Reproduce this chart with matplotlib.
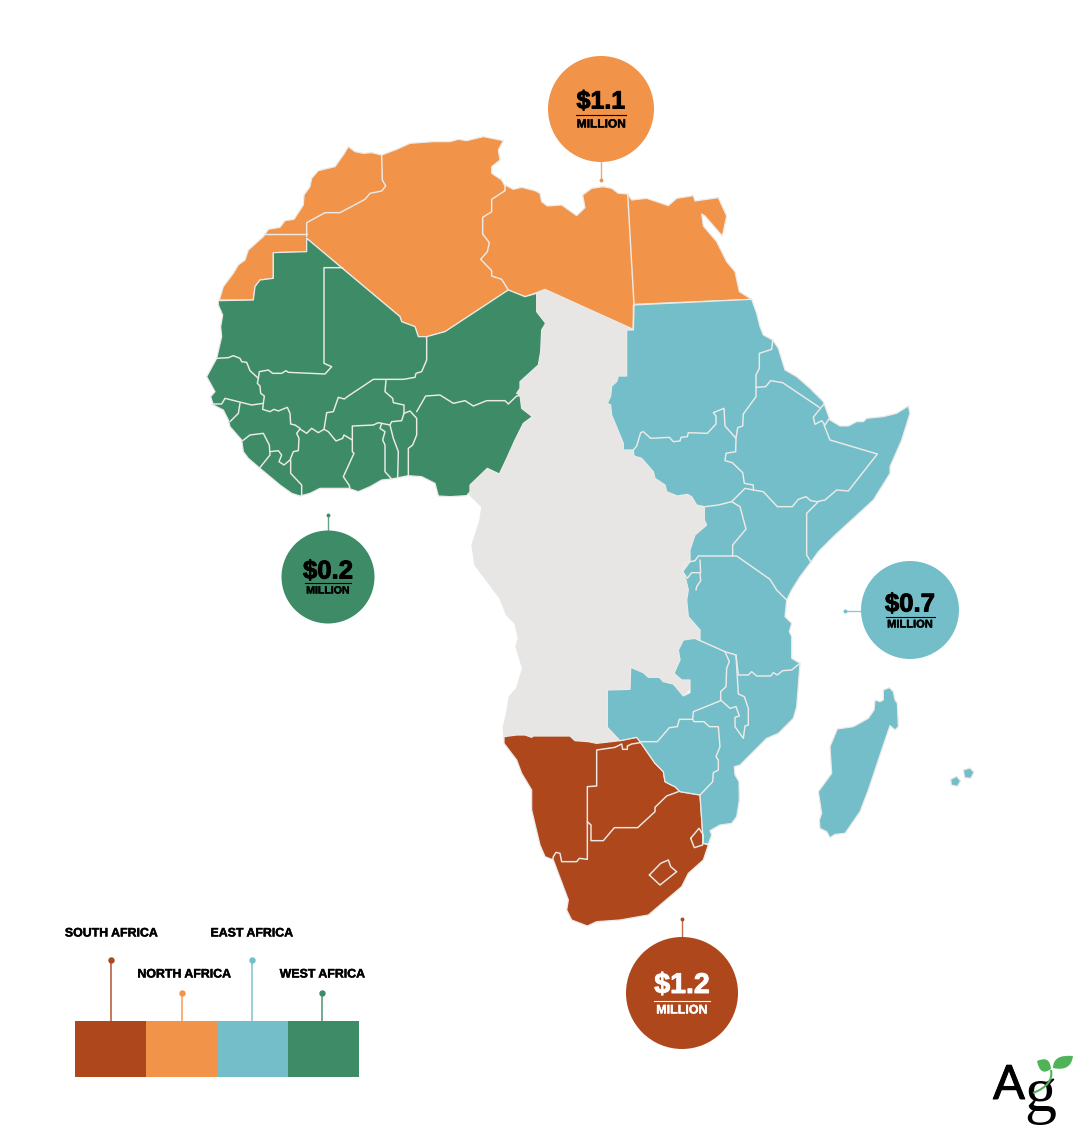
import matplotlib
matplotlib.use("Agg")
import matplotlib.pyplot as plt
import matplotlib.patheffects as pe
from matplotlib.patches import Circle, PathPatch, Polygon, Rectangle
from matplotlib.path import Path

# values
regions = ["SOUTH AFRICA", "NORTH AFRICA", "EAST AFRICA", "WEST AFRICA"]
amounts = ["$1.2", "$1.1", "$0.7", "$0.2"]
colors = ["#AE471C", "#F19349", "#73BEC8", "#3E8B67"]
text_colors = ["white", "black", "black", "black"]
bubble_xy = [(682, 993), (601, 109), (910, 610), (328, 577)]
bubble_r = [56, 53, 49, 46.5]
stem_ends = [((682, 937), (682, 919)), ((601, 162), (601, 180)),
             ((861, 611), (845, 611)), ((328, 531), (328, 515))]
amount_size = [20.5, 18, 18.5, 18.5]
million_size = [9.0, 8.6, 8.0, 7.6]
amount_dy = [-7, -7.5, -5.5, -5.5]
rule_dy = [8, 6, 7, 6]
million_dy = [17.5, 15.5, 14.5, 13.5]
rule_half = [28, 25, 24.5, 23]
legend_stem_x = [111, 182, 252, 322]
legend_stem_top = [960, 993, 960, 993]
legend_label_y = [933.5, 974.5, 933.5, 974.5]
legend_label_x = [111.5, 184.5, 252, 322.5]
GREY = "#E8E6E4"
LINE = "#ECEAE7"


def z3(pts):
    # outline (x0=200, y0=130, 3x)
    return [(200 + x / 3, 130 + y / 3) for x, y in pts]


def z4(pts):
    # east crop
    return [(600 + x / 3, 290 + y / 3) for x, y in pts]


def z5(pts):
    # south crop
    return [(500 + x / 3, 590 + y / 3) for x, y in pts]


def zn(pts):
    # libya / egypt crop
    return [(460 + x / 3, 130 + y / 3) for x, y in pts]


def zm(pts):
    # madagascar crop
    return [(800 + x / 3, 675 + y / 3) for x, y in pts]


north = z3([(58, 510), (70, 470), (100, 430), (115, 405), (135, 390), (145, 360), (190, 320), (205, 298),
            (240, 292), (255, 272), (282, 268), (310, 225), (312, 195), (330, 170), (335, 145), (355, 122),
            (405, 110), (430, 75), (445, 50), (465, 65), (490, 70), (515, 68), (545, 75), (590, 58), (630, 40),
            (700, 35), (750, 35), (775, 28), (800, 32), (850, 20), (910, 32), (895, 60), (900, 90), (875, 110),
            (875, 130), (905, 150), (915, 168)]) + zn([
    (135, 165), (160, 178), (185, 172), (225, 182), (240, 190), (245, 215), (262, 228), (305, 225), (350, 257),
    (375, 233), (368, 195), (395, 175), (430, 170), (455, 175), (475, 190), (503, 192), (515, 210), (560, 205),
    (625, 227), (650, 205), (700, 197), (705, 213), (775, 203), (800, 258), (787, 318), (735, 258), (725, 252),
    (730, 288), (770, 335), (800, 395), (825, 425), (838, 485), (875, 508), (522, 523), (520, 598), (255, 478),
    (230, 488), (195, 500), (145, 480)]) + z3([
        (735, 605), (680, 620), (655, 620), (645, 590), (605, 575), (600, 560),
        (320, 325), (320, 365), (220, 368), (220, 445), (180, 450), (165, 470), (160, 510)])

north_lines = [
    z3([(195, 313), (320, 313)]),
    z3([(320, 320), (320, 278), (375, 248), (420, 248), (495, 208), (510, 190), (545, 183), (557, 168), (547, 150),
        (545, 75)]),
    z3([(915, 165), (915, 182), (875, 208), (875, 245), (848, 262), (848, 312), (868, 338), (862, 365), (842, 388),
        (875, 422), (875, 438), (905, 448), (925, 480)]),
    zn([(503, 192), (522, 523), (520, 598)]),
]

west = z3([(55, 512), (160, 510), (165, 470), (180, 450), (220, 445), (220, 368), (320, 365), (320, 325), (600, 560),
           (605, 575), (645, 590), (655, 620), (680, 620), (735, 605), (925, 480), (975, 500), (1010, 490),
           (1010, 545), (1037, 580), (1025, 600), (1022, 665), (1015, 705), (960, 755), (960, 775), (950, 790),
           (960, 795), (965, 835), (997, 860), (970, 880), (945, 930), (918, 990), (898, 1032), (862, 1015),
           (810, 1065), (810, 1085), (800, 1097), (750, 1100), (715, 1098), (705, 1060), (665, 1040), (625, 1037),
           (575, 1047), (545, 1050), (510, 1070), (475, 1085), (445, 1075), (360, 1075), (330, 1090), (300, 1098),
           (275, 1090), (240, 1065), (180, 1015), (145, 985), (130, 965), (125, 930), (90, 890), (85, 870), (70, 840),
           (40, 825), (32, 800), (45, 785), (20, 740), (50, 685), (65, 620), (62, 590), (68, 555), (55, 525)])

west_lines = [z3(p) for p in [
    [(428, 413), (372, 413), (372, 700), (395, 710), (375, 732), (265, 727), (258, 722), (245, 730), (218, 730),
     (205, 720), (178, 725), (175, 745)],
    [(50, 685), (85, 683), (100, 677), (120, 685), (125, 695), (140, 697), (150, 722), (175, 745), (172, 760),
     (180, 768), (182, 790), (193, 798), (190, 820)],
    [(35, 822), (65, 822), (75, 805), (155, 825), (190, 820), (188, 838), (210, 845), (222, 838), (235, 843), (262, 832),
     (270, 850), (272, 882), (285, 885), (300, 895)],
    [(120, 820), (115, 850), (90, 875)],
    [(128, 932), (150, 915), (190, 910), (208, 945), (210, 975), (178, 1015)],
    [(210, 965), (235, 962), (245, 975), (237, 995), (252, 1005), (270, 990), (280, 965), (295, 962), (297, 925),
     (290, 910), (300, 897)],
    [(272, 990), (272, 1030), (305, 1065), (305, 1098)],
    [(300, 897), (320, 910), (335, 895), (355, 908), (372, 898), (380, 848), (400, 845), (415, 802), (433, 807),
     (445, 798), (520, 748), (610, 748), (645, 742), (648, 730), (665, 725), (680, 690), (680, 620)],
    [(372, 898), (385, 905), (408, 933), (428, 925), (432, 915), (457, 930), (457, 965), (462, 970), (430, 1040),
     (447, 1065), (450, 1075)],
    [(457, 930), (457, 888), (520, 885), (535, 878), (570, 885), (580, 925), (595, 965), (593, 1045)],
    [(545, 880), (540, 895), (555, 905), (548, 930), (555, 945), (555, 1025), (575, 1047)],
    [(570, 885), (575, 875), (605, 872), (612, 850), (630, 843), (650, 865), (650, 915), (638, 945), (625, 955),
     (625, 1037)],
    [(558, 750), (555, 785), (578, 805), (580, 818), (612, 825), (612, 850)],
    [(650, 845), (677, 798), (720, 795), (760, 820), (795, 812), (820, 828), (860, 812), (915, 812), (925, 822),
     (950, 798), (960, 797)],
]]

east = z4([(100, 45), (455, 28), (470, 70), (480, 110), (490, 135), (518, 150), (535, 175), (555, 240), (590, 260),
           (630, 295), (670, 335), (690, 390), (720, 408), (745, 408), (770, 395), (790, 395), (800, 385), (850, 380),
           (890, 370), (925, 348), (930, 370), (905, 450), (870, 530), (870, 550), (820, 630), (760, 685), (700, 740),
           (655, 785), (630, 820), (600, 860), (575, 900)]) + z5([
    (860, 30), (855, 80), (875, 100), (868, 125), (875, 140), (875, 205), (900, 220), (890, 350), (880, 385),
    (835, 430), (800, 445), (720, 525), (703, 530), (705, 555), (717, 575), (718, 630), (710, 680), (695, 700),
    (660, 705), (630, 722), (635, 735), (625, 762), (610, 760), (600, 615), (540, 605), (525, 590), (510, 583),
    (495, 575), (490, 545), (465, 520), (420, 455), (410, 442), (360, 452), (322, 412), (322, 300), (390, 298),
    (392, 232), (430, 248), (445, 262), (478, 262), (490, 275), (520, 282), (550, 318), (570, 308), (570, 270),
    (545, 270), (522, 250), (540, 210), (535, 180), (550, 150), (585, 145), (600, 150), (600, 120), (565, 80),
    (560, 30), (565, 0)]) + z4([
        (258, 870), (248, 845), (270, 815), (270, 780), (285, 735), (320, 705), (313, 690), (313, 650), (290, 645),
        (275, 620), (262, 613), (232, 618), (200, 605), (195, 585), (165, 565), (160, 545), (125, 505), (102, 498),
        (100, 480), (70, 480), (70, 460), (35, 375), (32, 345), (22, 340), (32, 318), (35, 288), (50, 275), (55, 258),
        (80, 258), (80, 120), (100, 120)])

madagascar = zm([(268, 38), (280, 50), (285, 75), (292, 85), (295, 155), (285, 165), (270, 152), (240, 240), (205, 345),
                 (180, 410), (135, 475), (105, 478), (90, 488), (80, 470), (60, 460), (58, 435), (65, 415), (55, 350),
                 (95, 295), (90, 215), (112, 162), (160, 155), (205, 130), (222, 105), (225, 75), (240, 80), (250, 75),
                 (250, 45)])
island_a = zm([(490, 285), (510, 279), (522, 292), (512, 310), (494, 308)])
island_b = zm([(452, 313), (470, 304), (482, 318), (472, 334), (454, 330)])

east_lines = [z4(p) for p in [
    [(518, 152), (515, 178), (478, 190), (478, 235), (468, 255), (468, 320), (430, 372), (428, 408), (413, 413),
     (408, 445), (375, 408), (372, 355), (340, 368), (348, 378), (348, 402), (322, 430), (265, 428), (262, 440),
     (243, 442), (240, 453), (220, 455), (208, 442), (152, 445), (130, 425), (122, 428), (110, 468), (100, 480)],
    [(468, 292), (497, 290), (512, 272), (548, 278), (658, 352)],
    [(672, 342), (645, 375), (640, 382), (645, 403), (665, 392), (675, 405), (688, 385)],
    [(672, 405), (690, 450), (832, 492), (745, 603), (710, 600), (675, 630), (650, 635), (632, 632), (618, 620),
     (595, 628), (577, 650), (532, 650), (490, 605), (460, 600), (435, 595), (395, 635), (355, 645), (315, 650)],
    [(408, 445), (407, 485), (378, 490), (375, 512), (397, 518), (428, 548), (433, 580), (460, 585), (460, 600)],
    [(395, 635), (420, 650), (438, 717), (398, 765), (398, 798)],
    [(655, 635), (620, 670), (620, 795), (632, 815)],
    [(285, 812), (295, 798), (410, 798), (510, 868), (530, 900), (560, 930)],
    [(285, 812), (255, 818), (248, 845), (262, 865), (275, 848), (300, 848), (302, 872), (290, 890), (288, 900)],
    [(300, 810), (302, 848)],
]] + [z5(p) for p in [
    [(585, 145), (675, 185), (708, 195), (715, 255), (745, 255), (755, 245), (770, 258), (812, 258), (820, 248),
     (832, 255), (848, 242), (875, 240), (900, 220)],
    [(675, 185), (688, 215), (680, 235), (678, 290), (662, 305), (662, 330), (690, 355), (708, 350), (718, 378),
     (705, 382), (705, 410), (730, 445), (735, 408), (745, 405), (745, 355), (733, 320), (715, 312), (708, 195)],
    [(662, 332), (580, 365), (578, 388), (538, 388), (532, 410), (508, 413), (472, 455), (420, 455)],
    [(578, 388), (582, 395), (612, 395), (628, 410), (655, 410), (660, 470), (648, 500), (655, 510), (655, 540),
     (640, 548), (638, 575), (600, 615)],
]]

south = z5([(12, 440), (50, 435), (75, 435), (95, 442), (100, 438), (210, 438), (225, 452), (265, 455), (290, 460),
            (360, 452), (410, 442), (420, 455), (465, 520), (490, 545), (495, 575), (510, 583), (525, 590), (540, 605),
            (600, 615), (610, 760), (625, 765), (610, 810), (565, 850), (545, 890), (445, 975), (360, 990), (290, 995),
            (262, 1008), (215, 990), (200, 960), (205, 930), (160, 810), (135, 800), (120, 765), (95, 660), (95, 600),
            (65, 550), (50, 510), (12, 460)])

south_lines = [z5(p) for p in [
    [(158, 810), (160, 800), (168, 787), (180, 790), (185, 815), (230, 815), (238, 805), (262, 808), (262, 590),
     (290, 588), (290, 480), (345, 472), (365, 462), (368, 478), (382, 478), (382, 468), (395, 462), (420, 458)],
    [(262, 695), (273, 705), (273, 752), (310, 752), (343, 713), (413, 713), (465, 665), (465, 652), (500, 618),
     (535, 605)],
    [(448, 855), (482, 820), (505, 810), (512, 830), (530, 845), (480, 885), (448, 855)],
    [(572, 745), (597, 715), (610, 735), (608, 765), (583, 773), (572, 745)],
]]

# grey middle: the sides inside other regions get painted over
centre = zn([(230, 488), (255, 478), (520, 598)]) + [(640, 340), (660, 430), (715, 510)] + z5([
    (640, 0), (650, 200), (420, 470), (12, 445), (10, 410), (20, 370), (28, 320), (50, 295), (68, 235), (48, 170),
    (55, 145), (45, 100), (20, 75), (0, 25)]) + [
    (490, 585), (475, 565), (472, 545), (480, 520), (482, 506)] + z3([(840, 1125), (810, 1095), (700, 1000)])

fig = plt.figure(figsize=(10.88, 11.48), dpi=100)
ax = fig.add_axes([0, 0, 1, 1])
ax.set_xlim(0, 1088)
ax.set_ylim(1148, 0)
ax.axis("off")

ax.add_patch(Polygon(centre, closed=True, fc=GREY, ec=GREY, lw=1))
shapes = [([south], colors[0], south_lines), ([north], colors[1], north_lines),
          ([east, madagascar, island_a, island_b], colors[2], east_lines), ([west], colors[3], west_lines)]
for polys, col, lines in shapes:
    for pts in polys:
        ax.add_patch(Polygon(pts, closed=True, fc=col, ec=LINE, lw=0.9, joinstyle="round"))
for polys, col, lines in shapes:
    for pts in lines:
        ax.plot(*zip(*pts), color=LINE, lw=1.05, solid_joinstyle="round", solid_capstyle="round")


def heavy(width, col):
    return [pe.withStroke(linewidth=width, foreground=col)]


# bubbles and their pins
for i in range(4):
    (sx, sy), (ex, ey) = stem_ends[i]
    ax.plot([sx, ex], [sy, ey], color=colors[i], lw=1.0, alpha=0.8)
    ax.plot([ex], [ey], "o", color=colors[i], ms=2.8, mew=0)
    cx, cy = bubble_xy[i]
    ax.add_patch(Circle((cx, cy), bubble_r[i], fc=colors[i], ec="none", zorder=3))
    tc = text_colors[i]
    ax.text(cx, cy + amount_dy[i], amounts[i], ha="center", va="center", color=tc, fontsize=amount_size[i],
            fontweight="bold", family="Liberation Sans", zorder=4, path_effects=heavy(0.7, tc))
    ax.plot([cx - rule_half[i], cx + rule_half[i]], [cy + rule_dy[i]] * 2, color=tc, lw=0.8, zorder=4)
    ax.text(cx, cy + million_dy[i], "MILLION", ha="center", va="center", color=tc, fontsize=million_size[i],
            fontweight="bold", family="Liberation Sans", zorder=4, path_effects=heavy(0.3, tc))

# legend bar
for i in range(4):
    x0 = 75 + i * 71
    ax.add_patch(Rectangle((x0, 1021), 71, 56, fc=colors[i], ec="none"))
    sx = legend_stem_x[i]
    ax.plot([sx, sx], [1021, legend_stem_top[i]], color=colors[i], lw=1.2, alpha=0.85)
    ax.plot([sx], [legend_stem_top[i]], "o", color=colors[i], ms=4.6, mew=0)
    ax.text(legend_label_x[i], legend_label_y[i], regions[i], ha="center", va="center", fontsize=8.9,
            fontweight="bold", family="Liberation Sans", color="black", path_effects=heavy(0.3, "black"))

# logo
ax.text(1009, 1086, "A", ha="center", va="center", fontsize=34, family="Lato", color="black",
        path_effects=heavy(0.7, "black"))
ax.text(1040, 1096, "g", ha="center", va="center", fontsize=46, family="Liberation Serif", color="black")
green = "#4FB35A"
quad = [Path.MOVETO, Path.CURVE3, Path.CURVE3, Path.CURVE3, Path.CURVE3]
leaf_a = [(1037, 1061), (1050, 1055), (1051, 1069), (1040, 1077), (1037, 1061)]
leaf_b = [(1073, 1056), (1053, 1054), (1053, 1068), (1071, 1072), (1073, 1056)]
ax.add_patch(PathPatch(Path(leaf_a, quad), fc=green, ec="none", zorder=5))
ax.add_patch(PathPatch(Path(leaf_b, quad), fc=green, ec="none", zorder=5))
ax.add_patch(PathPatch(Path([(1051, 1070), (1054, 1085), (1033, 1093)], [Path.MOVETO, Path.CURVE3, Path.CURVE3]),
                       fc="none", ec=green, lw=1.5, zorder=5))

fig.savefig("out.png", dpi=100)
